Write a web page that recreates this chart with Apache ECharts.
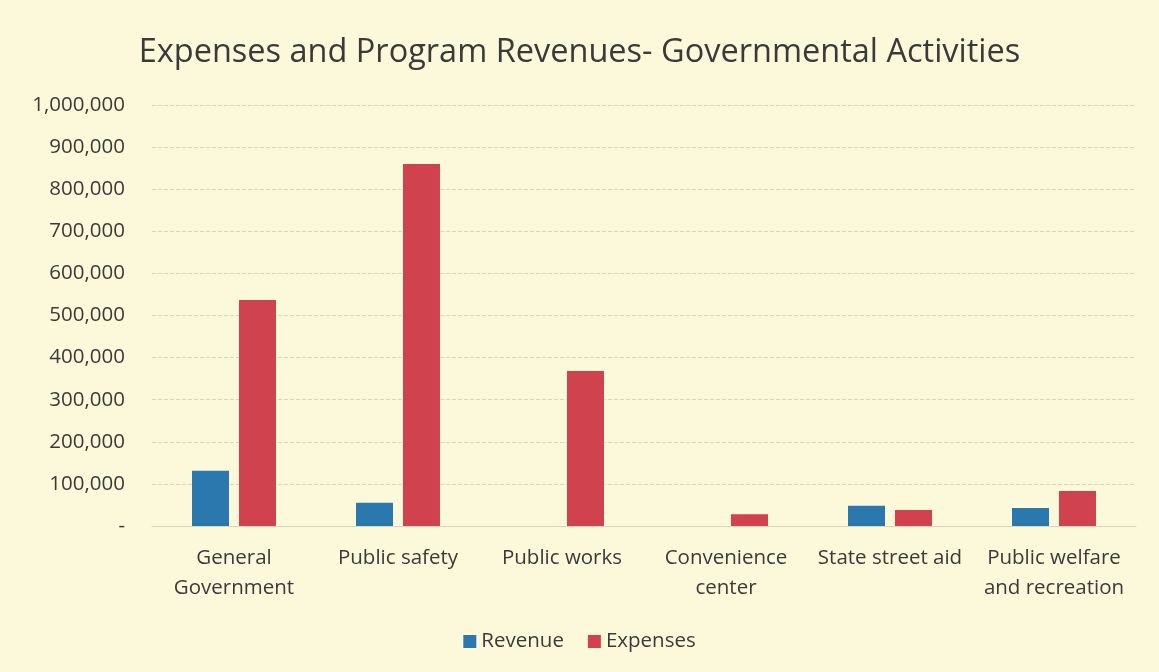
<!DOCTYPE html>
<html><head><meta charset="utf-8">
<script src="https://cdn.jsdelivr.net/npm/echarts@6/dist/echarts.min.js"></script>
<style>html,body{margin:0;padding:0;background:#FCF9DA;}#c{width:1159px;height:672px;}</style>
</head><body><div id="c"></div>
<script>
const categories = ['General\nGovernment','Public safety','Public works','Convenience\ncenter','State street aid','Public welfare\nand recreation'];
const revenue = [131000, 55000, 0, 0, 48000, 43000];
const expenses = [537000, 860000, 368000, 28000, 38000, 83000];
const chart = echarts.init(document.getElementById('c'));
const font = '"Open Sans", "Noto Sans", sans-serif';
chart.setOption({
  backgroundColor: '#FCF9DA',
  animation: false,
  title: {text: 'Expenses and Program Revenues- Governmental Activities', left: 'center', top: 31,
    textStyle: {fontFamily: font, fontSize: 32.5, fontWeight: 'normal', color: '#3a3a3a'}},
  legend: {bottom: 15, left: 'center', itemWidth: 13, itemHeight: 13, itemGap: 24,
    icon: 'rect', textStyle: {fontFamily: font, fontSize: 20.5, color: '#3a3a3a'}, data: ['Revenue','Expenses']},
  grid: {left: 152, right: 23, top: 105, bottom: 146},
  xAxis: {type: 'category', data: categories,
    axisLine: {lineStyle: {color: '#d8d6c0'}}, axisTick: {show: false},
    axisLabel: {fontFamily: font, fontSize: 20.5, color: '#3a3a3a', margin: 17, lineHeight: 30, interval: 0}},
  yAxis: {type: 'value', min: 0, max: 1000000, interval: 100000,
    axisLine: {show: false}, axisTick: {show: false},
    splitLine: {lineStyle: {color: '#d8d6c0', type: 'dashed', width: 1}},
    axisLabel: {fontFamily: font, fontSize: 20.5, color: '#3a3a3a', margin: 27,
      formatter: v => v === 0 ? '-' : v.toLocaleString('en-US')}},
  series: [
    {name: 'Revenue', type: 'bar', data: revenue, itemStyle: {color: '#2A78AE'}, barWidth: 37, barGap: '27%'},
    {name: 'Expenses', type: 'bar', data: expenses, itemStyle: {color: '#D1424F'}, barWidth: 37}
  ]
});
</script></body></html>
